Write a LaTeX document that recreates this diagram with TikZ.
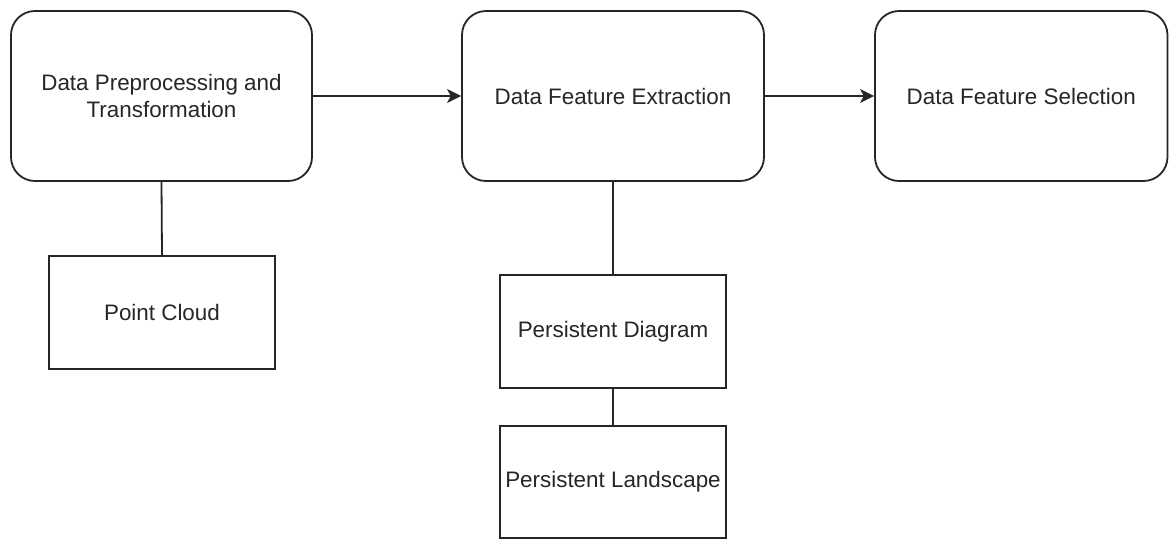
\documentclass[tikz,border=0pt]{standalone}
\usepackage{fontspec}
\setmainfont{Liberation Sans}
\usetikzlibrary{arrows.meta}
\begin{document}
\begin{tikzpicture}[x=0.5pt,y=-0.5pt,
  every node/.style={font=\fontsize{11.2}{13.5}\selectfont, text=black!85, align=center, inner sep=0pt},
  stage/.style={draw=black!85, line width=0.9pt, rounded corners=12pt, minimum width=#1*0.5pt, minimum height=85pt},
  sub/.style={draw=black!85, line width=0.9pt, minimum width=113pt, minimum height=56.5pt},
  link/.style={draw=black!85, line width=0.9pt},
  flow/.style={link, -{Stealth[length=7pt,width=7pt,inset=1.8pt]}}]
\useasboundingbox (0,0) rectangle (1169,538);
\node[stage=301] (prep) at (161.5,96) {Data Preprocessing and\\Transformation};
\node[stage=302] (extr) at (613,96) {Data Feature Extraction};
\node[stage=292.5] (sel) at (1021.25,96) {Data Feature Selection};
\node[sub] (pc) at (162,312.5) {Point Cloud};
\node[sub] (pd) at (613,331.5) {Persistent Diagram};
\node[sub, minimum height=56pt] (pl) at (613,482) {Persistent Landscape};
\draw[flow] (prep.east) -- (extr.west);
\draw[flow] (extr.east) -- (sel.west);
\draw[link] (prep.south) -- (pc.north);
\draw[link] (extr.south) -- (pd.north);
\draw[link] (pd.south) -- (pl.north);
\end{tikzpicture}
\end{document}
